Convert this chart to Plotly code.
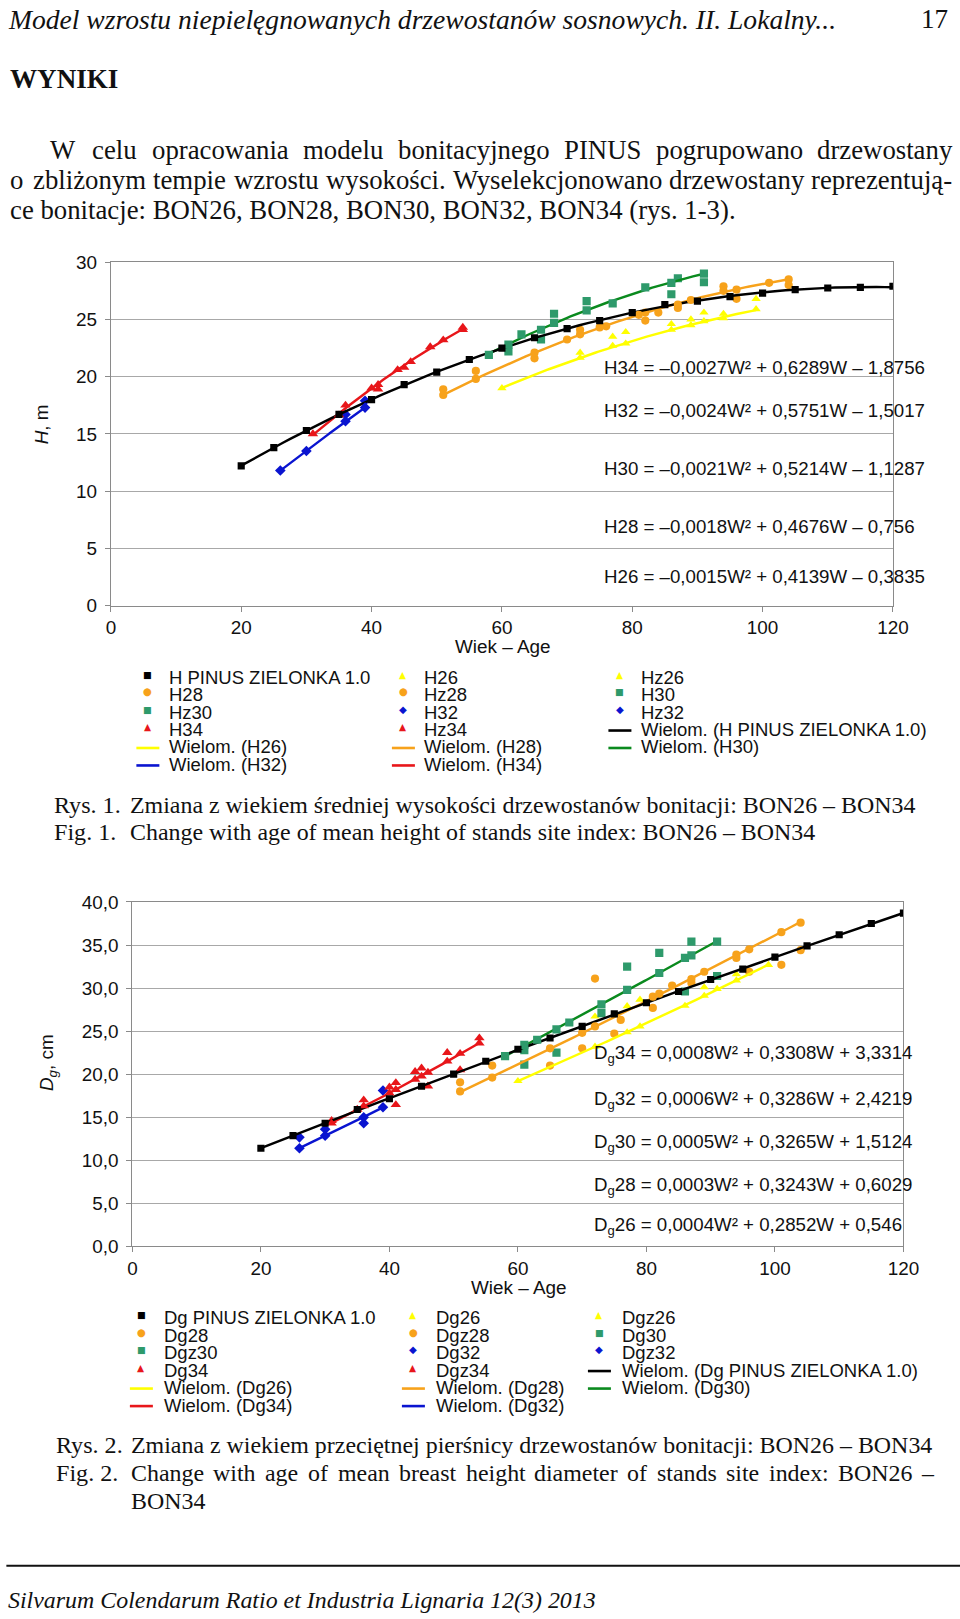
import numpy as np
import plotly.graph_objects as go

W, H = 980, 1630
# measured mapping page px -> photographed px (photo = A + S * page); positions below are photo targets
AXX, SXX = 3.63, 0.9785
AYY, SYY = 8.3, 0.989
K = 1 / 0.9785  # size compensation

# ---------------- Chart 1: mean height H [m] vs age ----------------
h_pinus_age = [20, 25, 30, 35, 40, 45, 50, 55, 60, 65, 70, 75, 80, 85, 90, 95, 100, 105, 110, 115, 120]
h_pinus = [12.2, 13.8, 15.3, 16.7, 18.0, 19.3, 20.4, 21.5, 22.5, 23.4, 24.2, 24.9, 25.6, 26.3, 26.6, 27.0, 27.3, 27.6, 27.75, 27.8, 27.9]

h26_age = [60, 72, 77, 79, 86, 89, 91, 94, 99]
h26 = [19.0, 21.65, 22.7, 22.9, 24.1, 24.5, 24.85, 25.1, 25.9]
hz26_age = [72, 77, 79, 86, 89, 91, 94, 99]
hz26 = [22.1, 23.5, 23.9, 24.6, 25.0, 25.6, 25.5, 26.8]

h28_age = [51, 56, 65, 70, 75, 81, 87, 89, 94, 101, 104]
h28 = [18.4, 19.8, 22.1, 23.25, 24.3, 25.4, 26.3, 26.7, 27.5, 28.2, 28.5]
hz28_age = [51, 56, 65, 72, 72, 76, 82, 82, 84, 87, 94, 96, 96, 104]
hz28 = [18.9, 20.5, 21.6, 23.7, 24.1, 24.4, 25.6, 24.9, 25.6, 26.0, 27.9, 27.6, 26.8, 28.0]

h30_age = [58, 61, 63, 66, 68, 73, 77, 82, 86, 91]
h30 = [21.9, 22.8, 23.7, 24.1, 24.7, 25.8, 26.4, 27.8, 28.2, 29.0]
hz30_age = [61, 66, 68, 73, 86, 87, 91]
hz30 = [22.2, 23.25, 25.5, 26.6, 27.2, 28.6, 28.25]

h32_age = [26, 30, 36, 39]
h32 = [11.8, 13.5, 16.1, 17.3]
hz32_age = [36, 39]
hz32 = [16.7, 17.9]

h34_age = [31, 35, 40, 44, 49, 54]
h34 = [15.0, 16.65, 19.0, 20.6, 22.6, 24.1]
hz34_age = [36, 41, 41, 45, 46, 51, 54]
hz34 = [17.5, 19.3, 18.9, 20.8, 21.3, 23.2, 24.3]

# ---------------- Chart 2: mean diameter Dg [cm] vs age ----------------
dg_pinus_age = [20, 25, 30, 35, 40, 45, 50, 55, 60, 65, 70, 75, 80, 85, 90, 95, 100, 105, 110, 115, 120]
dg_pinus = [11.4, 12.86, 14.3, 15.9, 17.15, 18.6, 20.0, 21.5, 22.9, 24.2, 25.55, 27.0, 28.3, 29.6, 31.0, 32.2, 33.6, 34.9, 36.2, 37.5, 38.7]

dg26_age = [60, 72, 77, 79, 86, 89, 91, 94, 99]
dg26 = [19.2, 23.2, 24.86, 25.55, 27.95, 29.1, 29.9, 30.9, 32.7]
dgz26_age = [72, 77, 79, 89, 94]
dgz26 = [26.7, 27.9, 28.65, 30.1, 31.6]

dg28_age = [51, 56, 65, 70, 72, 76, 81, 82, 84, 87, 89, 94, 96, 101, 104]
dg28 = [18.0, 19.6, 23.0, 24.8, 25.55, 26.3, 29.0, 29.35, 30.3, 31.05, 31.9, 33.9, 34.5, 36.5, 37.6]
dgz28_age = [51, 56, 65, 70, 72, 75, 81, 87, 94, 96, 101, 104]
dgz28 = [19.05, 21.0, 21.0, 23.0, 31.1, 24.7, 27.7, 30.6, 33.5, 31.9, 32.7, 34.4]

dg30_age = [58, 61, 63, 66, 68, 73, 77, 82, 86, 87, 91]
dg30 = [22.1, 23.4, 24.0, 25.2, 26.0, 28.1, 29.8, 31.75, 33.5, 33.8, 35.4]
dgz30_age = [61, 61, 66, 73, 77, 82, 86, 87, 91]
dgz30 = [21.1, 22.8, 22.5, 27.1, 32.5, 34.1, 29.6, 35.4, 31.4]

dg32_age = [26, 30, 36, 39]
dg32 = [11.4, 12.86, 15.0, 16.15]
dgz32_age = [26, 30, 36, 39]
dgz32 = [12.66, 13.6, 14.3, 18.1]

dg34_age = [31, 35, 36, 40, 41, 44, 45, 46, 49, 51, 54]
dg34 = [14.3, 15.9, 16.3, 17.8, 18.2, 19.4, 19.75, 20.2, 21.5, 22.4, 23.6]
dgz34_age = [31, 36, 40, 41, 41, 44, 45, 46, 49, 51, 54]
dgz34 = [14.6, 17.0, 18.5, 19.0, 16.45, 20.3, 20.7, 18.6, 22.5, 20.5, 24.2]

x_ticks = [0, 20, 40, 60, 80, 100, 120]

eq1 = ["H34 = –0,0027W² + 0,6289W – 1,8756",
       "H32 = –0,0024W² + 0,5751W – 1,5017",
       "H30 = –0,0021W² + 0,5214W – 1,1287",
       "H28 = –0,0018W² + 0,4676W – 0,756",
       "H26 = –0,0015W² + 0,4139W – 0,3835"]
eq2 = ["D<sub>g</sub>34 = 0,0008W² + 0,3308W + 3,3314",
       "D<sub>g</sub>32 = 0,0006W² + 0,3286W + 2,4219",
       "D<sub>g</sub>30 = 0,0005W² + 0,3265W + 1,5124",
       "D<sub>g</sub>28 = 0,0003W² + 0,3243W + 0,6029",
       "D<sub>g</sub>26 = 0,0004W² + 0,2852W + 0,546"]

# ---------------- styles ----------------
BLACK = "#000000"
YELLOW = "#FFFF00"
ORANGE = "#F7A21B"
GREEN_M = "#2E9A6B"
GREEN_L = "#0A8A1E"
BLUE = "#0A14D0"
RED = "#E8161A"
SANS = "Liberation Sans, Arial, sans-serif"
SERIF = "Liberation Serif, Times New Roman, serif"

# Times New Roman advance widths (1/1000 em) used to justify lines
TW = {" ": 250, "a": 444, "b": 500, "c": 444, "d": 500, "e": 444, "f": 333, "g": 500, "h": 500,
      "i": 278, "j": 278, "k": 500, "l": 278, "m": 778, "n": 500, "o": 500, "p": 500, "q": 500,
      "r": 333, "s": 389, "t": 278, "u": 500, "v": 500, "w": 722, "x": 500, "y": 500, "z": 444,
      "A": 722, "B": 667, "C": 667, "D": 722, "E": 611, "F": 556, "G": 722, "H": 722, "I": 333,
      "K": 722, "L": 611, "N": 722, "O": 722, "P": 556, "R": 667, "S": 556, "U": 722, "W": 944,
      "Z": 611, ".": 250, ",": 250, ":": 278, "(": 333, ")": 333, "-": 333, "–": 500,
      "ż": 444, "ś": 389, "ę": 444, "ą": 444, "ó": 500, "ń": 500, "ł": 278}


def PX(x):
    return ((x - AXX) / SXX) / W


def PY(y):
    return 1 - ((y - AYY) / SYY) / H


fig = go.Figure()


def markers(xa, ya, x, y, symbol, color, size):
    fig.add_trace(go.Scatter(x=x, y=y, mode="markers", xaxis=xa, yaxis=ya, showlegend=False,
                             hoverinfo="skip",
                             marker=dict(symbol=symbol, color=color, size=size * K,
                                         line=dict(width=0))))


def trend(xa, ya, x, y, color, width=2.4):
    c = np.polyfit(np.array(x, float), np.array(y, float), 2)
    xs = np.linspace(min(x), max(x), 80)
    fig.add_trace(go.Scatter(x=xs, y=np.polyval(c, xs), mode="lines", xaxis=xa, yaxis=ya,
                             showlegend=False, hoverinfo="skip",
                             line=dict(color=color, width=width * K)))


# chart 1
markers("x", "y", hz26_age, hz26, "triangle-up", YELLOW, 8)
markers("x", "y", hz28_age, hz28, "circle", ORANGE, 8)
markers("x", "y", hz30_age, hz30, "square", GREEN_M, 8)
markers("x", "y", hz32_age, hz32, "diamond", BLUE, 8)
markers("x", "y", hz34_age, hz34, "triangle-up", RED, 9)
trend("x", "y", h26_age, h26, YELLOW)
trend("x", "y", h28_age, h28, ORANGE)
trend("x", "y", h30_age, h30, GREEN_L)
trend("x", "y", h32_age, h32, BLUE)
trend("x", "y", h34_age, h34, RED)
trend("x", "y", h_pinus_age, h_pinus, BLACK)
markers("x", "y", h26_age, h26, "triangle-up", YELLOW, 8)
markers("x", "y", h28_age, h28, "circle", ORANGE, 8)
markers("x", "y", h30_age, h30, "square", GREEN_M, 8)
markers("x", "y", h32_age, h32, "diamond", BLUE, 8)
markers("x", "y", h34_age, h34, "triangle-up", RED, 9)
markers("x", "y", h_pinus_age, h_pinus, "square", BLACK, 7)

# chart 2
markers("x2", "y2", dgz26_age, dgz26, "triangle-up", YELLOW, 8)
markers("x2", "y2", dgz28_age, dgz28, "circle", ORANGE, 8)
markers("x2", "y2", dgz30_age, dgz30, "square", GREEN_M, 8)
markers("x2", "y2", dgz32_age, dgz32, "diamond", BLUE, 8)
markers("x2", "y2", dgz34_age, dgz34, "triangle-up", RED, 9)
trend("x2", "y2", dg26_age, dg26, YELLOW)
trend("x2", "y2", dg28_age, dg28, ORANGE)
trend("x2", "y2", dg30_age, dg30, GREEN_L)
trend("x2", "y2", dg32_age, dg32, BLUE)
trend("x2", "y2", dg34_age, dg34, RED)
trend("x2", "y2", dg_pinus_age, dg_pinus, BLACK)
markers("x2", "y2", dg26_age, dg26, "triangle-up", YELLOW, 8)
markers("x2", "y2", dg28_age, dg28, "circle", ORANGE, 8)
markers("x2", "y2", dg30_age, dg30, "square", GREEN_M, 8)
markers("x2", "y2", dg32_age, dg32, "diamond", BLUE, 8)
markers("x2", "y2", dg34_age, dg34, "triangle-up", RED, 9)
markers("x2", "y2", dg_pinus_age, dg_pinus, "square", BLACK, 7)

AX = dict(showline=True, linecolor="#8a8a8a", linewidth=1.3, mirror=True, ticks="outside",
          ticklen=5, tickwidth=1.2, tickcolor="#8a8a8a", zeroline=False,
          tickfont=dict(family=SANS, size=18.5 * K, color="#111111"))

fig.update_layout(
    width=W, height=H, margin=dict(l=0, r=0, t=0, b=0),
    paper_bgcolor="white", plot_bgcolor="white", separators=", ", showlegend=False,
    xaxis=dict(AX, domain=[PX(109.5), PX(891.5)], range=[0, 120], tickvals=x_ticks,
               showgrid=False, anchor="y", ticklabelstandoff=0),
    yaxis=dict(AX, domain=[PY(605), PY(261)], range=[0, 30], dtick=5, showgrid=True,
               gridcolor="#a8a8a8", gridwidth=1.2, anchor="x", ticklabelstandoff=4),
    xaxis2=dict(AX, domain=[PX(131), PX(902)], range=[0, 120], tickvals=x_ticks,
                showgrid=False, anchor="y2", ticklabelstandoff=0),
    yaxis2=dict(AX, domain=[PY(1247), PY(902)], range=[0, 40], dtick=5, tickformat=".1f",
                showgrid=True, gridcolor="#a8a8a8", gridwidth=1.2, anchor="x2",
                ticklabelstandoff=4),
)

ann = []
shapes = []


def text(x, y, s, size, family=SERIF, xanchor="left", color="#111111", angle=0,
         style="normal", weight="normal"):
    ann.append(dict(x=PX(x), y=PY(y), xref="paper", yref="paper", text=s, showarrow=False,
                    xanchor=xanchor, yanchor="middle", textangle=angle,
                    font=dict(family=family, size=size * K, color=color, style=style,
                              weight=weight)))


def tw(s, fs):
    return sum(TW.get(ch, 500) for ch in s) * fs / 1000.0


def justify(line, x0, x1, y, fs):
    words = line.split(" ")
    widths = [tw(w, fs) for w in words]
    gap = (x1 - x0 - sum(widths)) / (len(words) - 1)
    x = x0
    for w, wd in zip(words, widths):
        text(x, y, w, fs)
        x += wd + gap


# page header and body text
text(5, 17.5, "Model wzrostu niepielęgnowanych drzewostanów sosnowych. II. Lokalny...", 27,
     style="italic")
text(949, 17.5, "17", 26.5, xanchor="right")
text(7, 77, "WYNIKI", 26.5, weight="bold")
justify("W celu opracowania modelu bonitacyjnego PINUS pogrupowano drzewostany", 47, 946, 148.5, 26.2)
justify("o zbliżonym tempie wzrostu wysokości. Wyselekcjonowano drzewostany reprezentują-",
        7, 946, 178.5, 26.2)
text(7, 208.5, "ce bonitacje: BON26, BON28, BON30, BON32, BON34 (rys. 1-3).", 26.2)

# captions
text(51, 805, "Rys. 1.", 23.6)
text(127, 805, "Zmiana z wiekiem średniej wysokości drzewostanów bonitacji: BON26 – BON34", 23.4)
text(51, 832, "Fig. 1.", 23.6)
text(127, 832, "Change with age of mean height of stands site index: BON26 – BON34", 23.4)
text(53, 1446, "Rys. 2.", 23.6)
text(128, 1446, "Zmiana z wiekiem przeciętnej pierśnicy drzewostanów bonitacji: BON26 – BON34", 23.4)
text(53, 1474, "Fig. 2.", 23.6)
justify("Change with age of mean breast height diameter of stands site index: BON26 –",
        128, 929, 1474, 23.4)
text(128, 1502, "BON34", 23.4)
text(5, 1601, "Silvarum Colendarum Ratio et Industria Lignaria 12(3) 2013", 23.4, style="italic")
shapes.append(dict(type="line", xref="paper", yref="paper", x0=PX(5), x1=PX(960),
                   y0=PY(1567), y1=PY(1567), line=dict(color="#111111", width=2)))

# axis titles
text(41, 423, "<i>H</i>, m", 18.5, family=SANS, xanchor="center", angle=-90)
text(502, 646, "Wiek – Age", 18.5, family=SANS, xanchor="center")
text(46, 1063, "<i>D<sub>g</sub></i>, cm", 18.5, family=SANS, xanchor="center", angle=-90)
text(518, 1288, "Wiek – Age", 18.5, family=SANS, xanchor="center")

# equations
for y, s in zip([366, 410, 468, 526, 576], eq1):
    text(601, y, s, 18.3, family=SANS)
for y, s in zip([1054, 1100, 1143, 1187, 1227], eq2):
    text(591, y, s, 18.3, family=SANS)

# legends (drawn as text + glyphs)
GLYPH = {"square": ("■", 9), "circle": ("●", 10), "triangle": ("▲", 9), "diamond": ("◆", 10)}


def legend(entries, mx, tx, y0, dy):
    for col, items in enumerate(entries):
        for row, (kind, color, label) in enumerate(items):
            y = y0 + row * dy
            if kind == "line":
                shapes.append(dict(type="line", xref="paper", yref="paper",
                                   x0=PX(mx[col] - 11.5), x1=PX(mx[col] + 11.5),
                                   y0=PY(y + 1), y1=PY(y + 1), line=dict(color=color, width=2.6)))
            else:
                g, sz = GLYPH[kind]
                ann.append(dict(x=PX(mx[col]), y=PY(y - 3), xref="paper", yref="paper", text=g,
                                showarrow=False, xanchor="center", yanchor="middle",
                                font=dict(family="DejaVu Sans", size=sz * K, color=color)))
            text(tx[col], y, label, 18.1, family=SANS)


leg1 = [
    [("square", BLACK, "H PINUS ZIELONKA 1.0"), ("circle", ORANGE, "H28"), ("square", GREEN_M, "Hz30"),
     ("triangle", RED, "H34"), ("line", YELLOW, "Wielom. (H26)"), ("line", BLUE, "Wielom. (H32)")],
    [("triangle", YELLOW, "H26"), ("circle", ORANGE, "Hz28"), ("diamond", BLUE, "H32"),
     ("triangle", RED, "Hz34"), ("line", ORANGE, "Wielom. (H28)"), ("line", RED, "Wielom. (H34)")],
    [("triangle", YELLOW, "Hz26"), ("square", GREEN_M, "H30"), ("diamond", BLUE, "Hz32"),
     ("line", BLACK, "Wielom. (H PINUS ZIELONKA 1.0)"), ("line", GREEN_L, "Wielom. (H30)")],
]
leg2 = [
    [("square", BLACK, "Dg PINUS ZIELONKA 1.0"), ("circle", ORANGE, "Dg28"), ("square", GREEN_M, "Dgz30"),
     ("triangle", RED, "Dg34"), ("line", YELLOW, "Wielom. (Dg26)"), ("line", RED, "Wielom. (Dg34)")],
    [("triangle", YELLOW, "Dg26"), ("circle", ORANGE, "Dgz28"), ("diamond", BLUE, "Dg32"),
     ("triangle", RED, "Dgz34"), ("line", ORANGE, "Wielom. (Dg28)"), ("line", BLUE, "Wielom. (Dg32)")],
    [("triangle", YELLOW, "Dgz26"), ("square", GREEN_M, "Dg30"), ("diamond", BLUE, "Dgz32"),
     ("line", BLACK, "Wielom. (Dg PINUS ZIELONKA 1.0)"), ("line", GREEN_L, "Wielom. (Dg30)")],
]
legend(leg1, [146.5, 402, 618.5], [166, 421, 638], 676.7, 17.5)
legend(leg2, [140, 412, 598], [161, 433, 619], 1318.3, 17.55)

fig.update_layout(annotations=ann, shapes=shapes)

fig.write_html("out.html", config={"displayModeBar": False},
               post_script="document.body.style.margin='0';document.body.style.overflow='hidden';")
